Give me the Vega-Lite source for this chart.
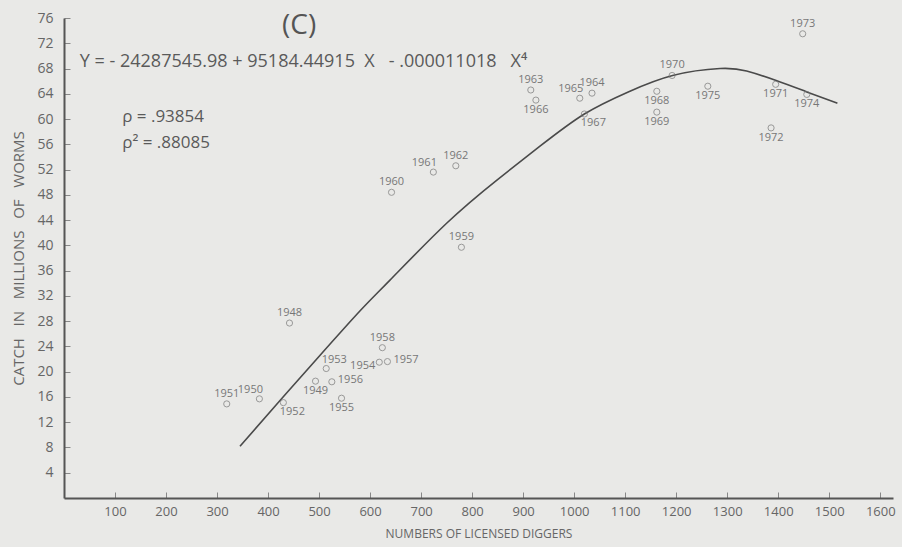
{
  "$schema": "https://vega.github.io/schema/vega-lite/v6.json",
  "width": 829,
  "height": 480,
  "autosize": {"type": "none"},
  "padding": {"left": 64, "top": 18, "right": 9, "bottom": 49},
  "background": "#e9e9e7",
  "config": {
    "view": {"stroke": null},
    "font": "Open Sans",
    "text": {"font": "Open Sans"}
  },
  "datasets": {
    "points": [
      {"year": 1948, "diggers": 442, "catch": 27.7},
      {"year": 1949, "diggers": 493, "catch": 18.5},
      {"year": 1950, "diggers": 383, "catch": 15.7},
      {"year": 1951, "diggers": 319, "catch": 14.9},
      {"year": 1952, "diggers": 430, "catch": 15.1},
      {"year": 1953, "diggers": 514, "catch": 20.5},
      {"year": 1954, "diggers": 618, "catch": 21.5},
      {"year": 1955, "diggers": 544, "catch": 15.8},
      {"year": 1956, "diggers": 525, "catch": 18.4},
      {"year": 1957, "diggers": 634, "catch": 21.6},
      {"year": 1958, "diggers": 624, "catch": 23.8},
      {"year": 1959, "diggers": 779, "catch": 39.7},
      {"year": 1960, "diggers": 642, "catch": 48.4},
      {"year": 1961, "diggers": 724, "catch": 51.6},
      {"year": 1962, "diggers": 768, "catch": 52.6},
      {"year": 1963, "diggers": 915, "catch": 64.6},
      {"year": 1964, "diggers": 1035, "catch": 64.1},
      {"year": 1965, "diggers": 1011, "catch": 63.3},
      {"year": 1966, "diggers": 925, "catch": 63.0},
      {"year": 1967, "diggers": 1020, "catch": 60.8},
      {"year": 1968, "diggers": 1162, "catch": 64.4},
      {"year": 1969, "diggers": 1162, "catch": 61.1},
      {"year": 1970, "diggers": 1192, "catch": 66.9},
      {"year": 1971, "diggers": 1395, "catch": 65.5},
      {"year": 1972, "diggers": 1386, "catch": 58.6},
      {"year": 1973, "diggers": 1448, "catch": 73.5},
      {"year": 1974, "diggers": 1456, "catch": 63.9},
      {"year": 1975, "diggers": 1262, "catch": 65.2}
    ],
    "curve": [
      {"diggers": 345, "catch": 8.2},
      {"diggers": 423, "catch": 15.4},
      {"diggers": 502, "catch": 22.6},
      {"diggers": 580, "catch": 29.6},
      {"diggers": 639, "catch": 34.5},
      {"diggers": 750, "catch": 43.5},
      {"diggers": 848, "catch": 50.3},
      {"diggers": 933, "catch": 55.7},
      {"diggers": 1020, "catch": 60.8},
      {"diggers": 1106, "catch": 64.3},
      {"diggers": 1193, "catch": 66.9},
      {"diggers": 1286, "catch": 68.0},
      {"diggers": 1338, "catch": 67.6},
      {"diggers": 1396, "catch": 66.1},
      {"diggers": 1456, "catch": 64.3},
      {"diggers": 1516, "catch": 62.5}
    ]
  },
  "layer": [
    {
      "data": {"name": "curve"},
      "mark": {"type": "line", "color": "#4a4a4a", "strokeWidth": 1.6, "interpolate": "natural"},
      "encoding": {
        "x": {
          "field": "diggers", "type": "quantitative",
          "scale": {"domain": [0, 1625], "nice": false, "zero": false},
          "axis": {
            "title": "NUMBERS OF LICENSED DIGGERS",
            "values": [100, 200, 300, 400, 500, 600, 700, 800, 900, 1000, 1100, 1200, 1300, 1400, 1500, 1600],
            "tickCount": 20,
            "format": "d",
            "labelOverlap": false,
            "grid": false,
            "domainColor": "#555555", "domainWidth": 2,
            "tickColor": "#888888", "tickSize": -6, "tickWidth": 1,
            "labelColor": "#666666", "labelFontSize": 13, "labelPadding": 13,
            "titleColor": "#666666", "titleFontSize": 12, "titleFontWeight": "normal", "titlePadding": 10
          }
        },
        "y": {
          "field": "catch", "type": "quantitative",
          "scale": {"domain": [0, 76], "nice": false, "zero": false},
          "axis": {
            "title": "CATCH\u00a0\u00a0\u00a0IN\u00a0\u00a0\u00a0MILLIONS\u00a0\u00a0\u00a0OF\u00a0\u00a0\u00a0WORMS",
            "values": [4, 8, 12, 16, 20, 24, 28, 32, 36, 40, 44, 48, 52, 56, 60, 64, 68, 72, 76],
            "tickCount": 25,
            "format": "d",
            "labelOverlap": false,
            "grid": false,
            "domainColor": "#555555", "domainWidth": 2,
            "tickColor": "#888888", "tickSize": -6, "tickWidth": 1,
            "labelColor": "#666666", "labelFontSize": 14, "labelPadding": 17,
            "titleColor": "#666666", "titleFontSize": 15, "titleFontWeight": "normal", "titlePadding": 10
          }
        }
      }
    },
    {
      "data": {"name": "points"},
      "mark": {"type": "point", "shape": "circle", "filled": false, "size": 38, "stroke": "#777777", "strokeWidth": 1},
      "encoding": {
        "x": {"field": "diggers", "type": "quantitative"},
        "y": {"field": "catch", "type": "quantitative"}
      }
    },
    {
      "data": {"name": "points"},
      "transform": [{"filter": {"field": "year", "oneOf": [1948, 1958, 1959, 1960, 1962, 1963, 1964, 1970, 1973, 1951]}}],
      "mark": {"type": "text", "fontSize": 11, "color": "#777777", "dy": -10, "baseline": "middle"},
      "encoding": {
        "x": {"field": "diggers", "type": "quantitative"},
        "y": {"field": "catch", "type": "quantitative"},
        "text": {"field": "year"}
      }
    },
    {
      "data": {"name": "points"},
      "transform": [{"filter": {"field": "year", "oneOf": [1950, 1961, 1965]}}],
      "mark": {"type": "text", "fontSize": 11, "color": "#777777", "dx": -9, "dy": -9, "baseline": "middle"},
      "encoding": {
        "x": {"field": "diggers", "type": "quantitative"},
        "y": {"field": "catch", "type": "quantitative"},
        "text": {"field": "year"}
      }
    },
    {
      "data": {"name": "points"},
      "transform": [{"filter": {"field": "year", "oneOf": [1953]}}],
      "mark": {"type": "text", "fontSize": 11, "color": "#777777", "dx": 8, "dy": -9, "baseline": "middle"},
      "encoding": {
        "x": {"field": "diggers", "type": "quantitative"},
        "y": {"field": "catch", "type": "quantitative"},
        "text": {"field": "year"}
      }
    },
    {
      "data": {"name": "points"},
      "transform": [{"filter": {"field": "year", "oneOf": [1949, 1955, 1966, 1968, 1969, 1971, 1972, 1974, 1975]}}],
      "mark": {"type": "text", "fontSize": 11, "color": "#777777", "dy": 10, "baseline": "middle"},
      "encoding": {
        "x": {"field": "diggers", "type": "quantitative"},
        "y": {"field": "catch", "type": "quantitative"},
        "text": {"field": "year"}
      }
    },
    {
      "data": {"name": "points"},
      "transform": [{"filter": {"field": "year", "oneOf": [1952, 1967]}}],
      "mark": {"type": "text", "fontSize": 11, "color": "#777777", "dx": 9, "dy": 9, "baseline": "middle"},
      "encoding": {
        "x": {"field": "diggers", "type": "quantitative"},
        "y": {"field": "catch", "type": "quantitative"},
        "text": {"field": "year"}
      }
    },
    {
      "data": {"name": "points"},
      "transform": [{"filter": {"field": "year", "oneOf": [1956, 1957]}}],
      "mark": {"type": "text", "fontSize": 11, "color": "#777777", "dx": 6, "dy": -2, "align": "left", "baseline": "middle"},
      "encoding": {
        "x": {"field": "diggers", "type": "quantitative"},
        "y": {"field": "catch", "type": "quantitative"},
        "text": {"field": "year"}
      }
    },
    {
      "data": {"name": "points"},
      "transform": [{"filter": {"field": "year", "oneOf": [1954]}}],
      "mark": {"type": "text", "fontSize": 11, "color": "#777777", "dx": -4, "dy": 4, "align": "right", "baseline": "middle"},
      "encoding": {
        "x": {"field": "diggers", "type": "quantitative"},
        "y": {"field": "catch", "type": "quantitative"},
        "text": {"field": "year"}
      }
    },
    {
      "data": {"values": [{}]},
      "mark": {"type": "text", "fontSize": 28, "color": "#555555", "align": "center", "baseline": "middle"},
      "encoding": {
        "x": {"datum": 461, "type": "quantitative"},
        "y": {"datum": 74.7, "type": "quantitative"},
        "text": {"value": "(C)"}
      }
    },
    {
      "data": {"values": [{}]},
      "mark": {"type": "text", "fontSize": 18, "color": "#5a5a5a", "align": "left", "baseline": "middle"},
      "encoding": {
        "x": {"datum": 31, "type": "quantitative"},
        "y": {"datum": 69.0, "type": "quantitative"},
        "text": {"value": "Y\u00a0=\u00a0-\u00a024287545.98\u00a0+\u00a095184.44915\u00a0\u00a0X\u00a0\u00a0\u00a0-\u00a0.000011018\u00a0\u00a0\u00a0X⁴"}
      }
    },
    {
      "data": {"values": [{}]},
      "mark": {"type": "text", "fontSize": 17, "color": "#5a5a5a", "align": "left", "baseline": "middle"},
      "encoding": {
        "x": {"datum": 114, "type": "quantitative"},
        "y": {"datum": 60.3, "type": "quantitative"},
        "text": {"value": "ρ = .93854"}
      }
    },
    {
      "data": {"values": [{}]},
      "mark": {"type": "text", "fontSize": 17, "color": "#5a5a5a", "align": "left", "baseline": "middle"},
      "encoding": {
        "x": {"datum": 114, "type": "quantitative"},
        "y": {"datum": 56.2, "type": "quantitative"},
        "text": {"value": "ρ² = .88085"}
      }
    }
  ]
}
